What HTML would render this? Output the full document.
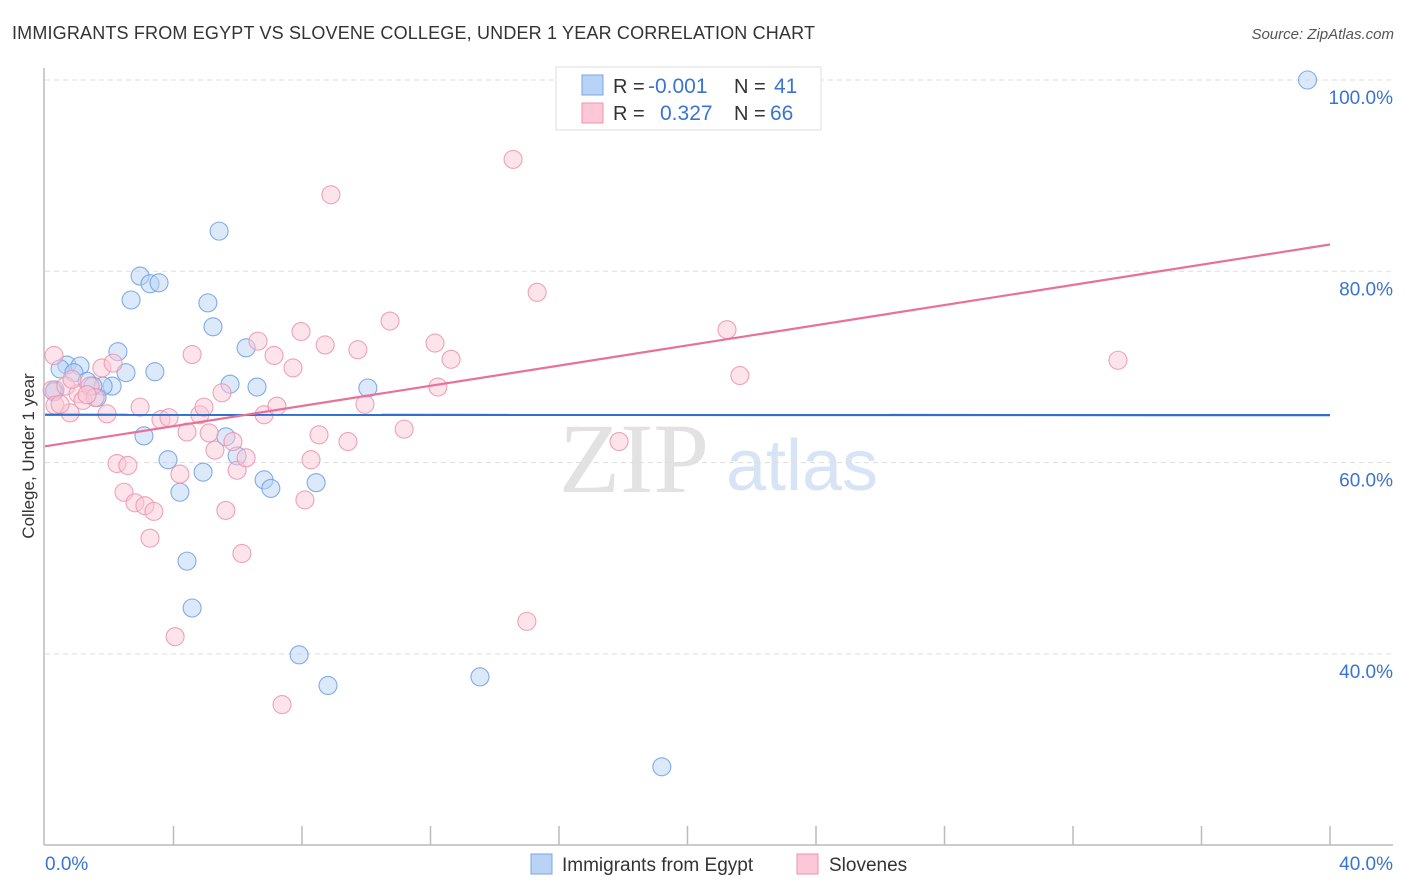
<!DOCTYPE html>
<html><head><meta charset="utf-8">
<style>
body{margin:0;background:#fff;width:1406px;height:892px;overflow:hidden;font-family:"Liberation Sans",sans-serif;}
svg{position:absolute;left:0;top:0;}
</style></head>
<body>
<svg id="chart" width="1406" height="892">
  <text x="12" y="39" font-size="18" fill="#333" textLength="803">IMMIGRANTS FROM EGYPT VS SLOVENE COLLEGE, UNDER 1 YEAR CORRELATION CHART</text>
  <text x="1394" y="39" font-size="15" fill="#555" font-style="italic" text-anchor="end">Source: ZipAtlas.com</text>
  <text x="634" y="492" font-size="100" fill="#e2e2e2" font-family="Liberation Serif" text-anchor="middle">ZIP</text>
  <text x="802" y="490" font-size="72" fill="#d6e4f5" text-anchor="middle">atlas</text>
  <g id="grid"></g>
  <g id="axes"></g>
  <g id="pts"></g>
  <g id="lines"></g>
  <text x="34" y="456" font-size="17" fill="#333" text-anchor="middle" transform="rotate(-90 34 456)">College, Under 1 year</text>
  <g>
    <rect x="556" y="67" width="265" height="63" fill="#fff" stroke="#ddd"/>
    <rect x="582" y="75" width="21" height="20" fill="#b8d3f5" stroke="#7aa6e0"/>
    <rect x="582" y="103" width="21" height="20" fill="#fcc7d6" stroke="#eb93ae"/>
    <text x="613" y="93" font-size="20" fill="#333">R = </text>
    <text x="648" y="93" font-size="21" fill="#3a74d0">-0.001</text>
    <text x="734" y="93" font-size="20" fill="#333">N = </text>
    <text x="774" y="93" font-size="21" fill="#3a74d0">41</text>
    <text x="613" y="120" font-size="20" fill="#333">R = </text>
    <text x="660" y="120" font-size="21" fill="#3a74d0">0.327</text>
    <text x="734" y="120" font-size="20" fill="#333">N = </text>
    <text x="770" y="120" font-size="21" fill="#3a74d0">66</text>
  </g>
  <g>
    <rect x="531" y="854" width="21" height="20" fill="#b8d3f5" stroke="#7aa6e0"/>
    <text x="562" y="871" font-size="19" fill="#333">Immigrants from Egypt</text>
    <rect x="797" y="854" width="21" height="20" fill="#fcc7d6" stroke="#eb93ae"/>
    <text x="829" y="871" font-size="19" fill="#333">Slovenes</text>
  </g>
</svg>
<script>
const egyptX=[39.3,5.42,2.96,3.27,3.55,2.68,5.07,5.23,6.26,2.27,0.68,1.09,3.42,2.52,0.47,0.90,1.31,2.09,1.81,5.76,6.60,10.05,0.31,0.28,1.62,3.08,5.63,3.83,5.98,4.92,6.82,8.44,4.20,7.03,4.42,4.58,7.91,8.81,13.54,19.2,1.49];
const egyptY=[100.0,84.2,79.5,78.7,78.8,77.0,76.7,74.2,72.0,71.6,70.2,70.1,69.5,69.4,69.8,69.4,68.5,68.0,68.0,68.2,67.9,67.8,67.6,67.4,66.8,62.8,62.7,60.3,60.7,59.0,58.2,57.9,56.9,57.3,49.7,44.8,39.9,36.7,37.6,28.2,68.0];
const sloveneX=[0.28,0.22,0.31,0.65,0.78,1.03,1.18,1.40,1.56,1.77,1.93,2.12,2.24,2.58,2.46,2.80,3.11,3.39,3.27,2.96,3.61,3.86,4.42,4.20,4.58,4.82,4.95,5.11,5.29,5.51,5.63,5.85,5.98,6.13,6.26,6.63,6.82,7.13,7.22,7.72,7.97,8.28,8.09,8.53,8.72,8.90,9.43,9.74,9.96,10.74,11.18,12.14,12.23,12.64,14.57,15.0,15.32,17.87,21.23,21.63,33.4,4.05,7.38,0.47,0.84,1.31];
const sloveneY=[71.2,67.6,66.0,68.0,65.2,67.2,66.5,68.0,66.8,69.9,65.1,70.4,59.9,59.7,56.9,55.8,55.5,54.9,52.1,65.8,64.5,64.7,63.2,58.8,71.3,65.0,65.8,63.1,61.3,67.3,55.0,62.2,59.2,50.5,60.5,72.7,65.0,71.2,65.9,69.9,73.7,60.3,56.1,62.9,72.3,88.0,62.2,71.8,66.1,74.8,63.5,72.5,67.9,70.8,91.7,43.4,77.8,62.2,73.9,69.1,70.7,41.8,34.7,66.1,68.7,67.1];
const yTicks=[40,60,80,100];
const yTickLabels=["40.0%","60.0%","80.0%","100.0%"];
const xTicks=[0,4,8,12,16,20,24,28,32,36,40];
const trendEgypt=[65.0,-0.001];
const trendSlovene=[61.7,0.5275];

const NS="http://www.w3.org/2000/svg";
const X=v=>45+v*(1285/40);
const Y=v=>80+(100-v)*(191.3/20);
function mk(tag,attrs,parent){const e=document.createElementNS(NS,tag);for(const k in attrs)e.setAttribute(k,attrs[k]);parent.appendChild(e);return e;}
const grid=document.getElementById('grid'),axes=document.getElementById('axes'),pts=document.getElementById('pts'),lines=document.getElementById('lines'),svg=document.getElementById('chart');
yTicks.forEach((t,i)=>{
  const l=mk('line',{x1:45,x2:1393,y1:Y(t),y2:Y(t),stroke:'#ddd','stroke-dasharray':'5,4'},grid);
  
  
  const tx=mk('text',{x:1393,y:Y(t)+24,'font-size':19,fill:'#3a74d0','text-anchor':'end'},svg);
  tx.textContent=yTickLabels[i];
  
  
});
const ax1=mk('line',{x1:44,x2:44,y1:68,y2:845,stroke:'#bbb','stroke-width':1.5},axes);


const ax2=mk('line',{x1:44,x2:1393,y1:845,y2:845,stroke:'#bbb','stroke-width':1.5},axes);


xTicks.forEach(t=>{
  if(t===0)return;
  const l=mk('line',{x1:X(t),x2:X(t),y1:826,y2:845,stroke:'#bbb','stroke-width':1.5},axes);
  
  
});
const xl0=mk('text',{x:45,y:870,'font-size':19,fill:'#3a74d0'},svg);xl0.textContent='0.0%';


const xl1=mk('text',{x:1393,y:870,'font-size':19,fill:'#3a74d0','text-anchor':'end'},svg);xl1.textContent='40.0%';


function drawPts(xs,ys,fill,stroke,name){
  xs.forEach((x,i)=>{
    const c=mk('circle',{cx:X(x),cy:Y(ys[i]),r:9,fill:fill,'fill-opacity':0.5,stroke:stroke,'stroke-width':1.1,'stroke-opacity':0.85},pts);
    
    
  });
}
drawPts(egyptX,egyptY,'#b8d3f5','#6d9fe0','point-egypt');
drawPts(sloveneX,sloveneY,'#fcc7d6','#eb93ae','point-slovene');
function drawLine(tr,color,name){
  const l=mk('line',{x1:X(0),y1:Y(tr[0]),x2:X(40),y2:Y(tr[0]+tr[1]*40),stroke:color,'stroke-width':2.2},lines);
  
  
}
drawLine(trendEgypt,'#2f6fd0','trend-line-egypt');
drawLine(trendSlovene,'#e8709a','trend-line-slovene');
</script>
</body></html>
